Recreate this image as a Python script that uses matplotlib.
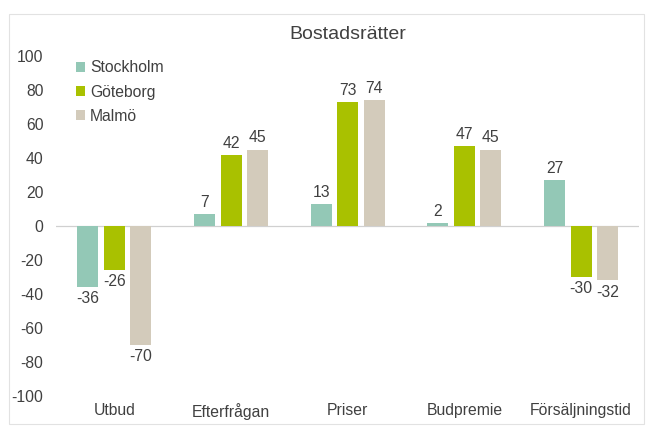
import matplotlib.pyplot as plt
import numpy as np
from matplotlib.patches import Rectangle

# Data
categories = ["Utbud", "Efterfrågan", "Priser", "Budpremie", "Försäljningstid"]
stockholm = [-36, 7, 13, 2, 27]
goteborg = [-26, 42, 73, 47, -30]
malmo = [-70, 45, 74, 45, -32]

series = [("Stockholm", stockholm, "#93c8b6"),
          ("Göteborg", goteborg, "#a9c100"),
          ("Malmö", malmo, "#d3cbbb")]

plt.rcParams['font.family'] = ['Liberation Sans', 'DejaVu Sans']
plt.rcParams['axes.unicode_minus'] = False

fig = plt.figure(figsize=(6.46, 4.28), dpi=100)
fig.patches.append(Rectangle((9 / 646, 4 / 428), 635 / 646, 410 / 428,
                             transform=fig.transFigure, fill=False,
                             edgecolor="#e2e2e2", linewidth=0.8))
ax = fig.add_axes([0.0867, 0.0748, 0.903, 0.794])

x = np.arange(len(categories))
width = 0.18
offsets = [-0.227, 0, 0.227]
fs = 11.3

for (name, vals, color), off in zip(series, offsets):
    bars = ax.bar(x + off, vals, width, color=color, label=name)
    for b, v in zip(bars, vals):
        va = "bottom" if v >= 0 else "top"
        dy = 3 if v >= 0 else -3
        ax.annotate(str(v), (b.get_x() + b.get_width() / 2, v),
                    xytext=(0, dy), textcoords="offset points",
                    ha="center", va=va, fontsize=fs, color="#404040")

ax.axhline(0, color="#d0d0d0", linewidth=0.9, zorder=0)
ax.set_ylim(-100, 100)
ax.set_xlim(-0.5, len(categories) - 0.5)
ax.set_yticks(range(-100, 101, 20))
ax.set_xticks(x)
ax.set_xticklabels(categories)
ax.tick_params(axis="both", length=0, labelsize=fs, colors="#404040")
ax.tick_params(axis="y", pad=9)
ax.tick_params(axis="x", pad=5)
for s in ax.spines.values():
    s.set_visible(False)

ax.set_title("Bostadsrätter", fontsize=14, color="#404040", pad=12)
ax.legend(loc="upper left", bbox_to_anchor=(0.01, 1.03), frameon=False,
          fontsize=fs, handlelength=0.6, handleheight=0.6,
          handletextpad=0.3, labelspacing=0.6, labelcolor="#404040")

fig.savefig("out.png", dpi=100)
